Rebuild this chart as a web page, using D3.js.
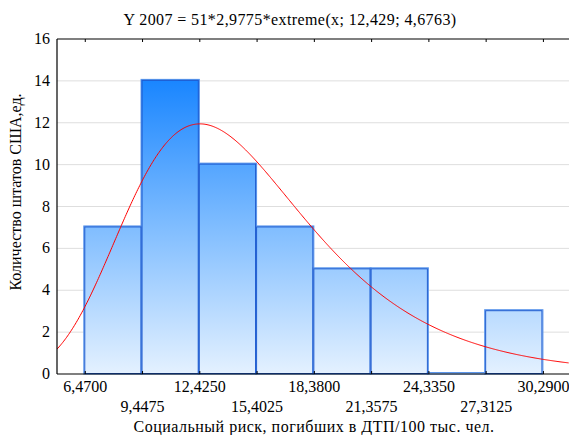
<!DOCTYPE html>
<html>
<head>
<meta charset="utf-8">
<script src="https://cdn.jsdelivr.net/npm/d3@7"></script>
<style>
  html, body { margin: 0; padding: 0; background: #fff; }
  svg { display: block; }
  svg text { font-family: "Liberation Serif", "DejaVu Serif", serif; }
</style>
</head>
<body>
<svg id="chart" width="569" height="435"></svg>
<script>
// Histogram bins: lower/upper bounds and state counts
const binEdges = [6.47, 9.4475, 12.425, 15.4025, 18.38, 21.3575, 24.335, 27.3125, 30.29];
const counts = [7, 14, 10, 7, 5, 5, 0, 3];
const xTickLabels = ["6,4700", "9,4475", "12,4250", "15,4025", "18,3800", "21,3575", "24,3350", "27,3125", "30,2900"];
const yTicks = [0, 2, 4, 6, 8, 10, 12, 14, 16];
// Fitted extreme-value curve: N * binWidth * extreme(x; location; scale)
const fitParams = [51, 2.9775, 12.429, 4.6763];
const titleText = "Y 2007 = 51*2,9775*extreme(x; 12,429; 4,6763)";
const xTitle = "Социальный риск, погибших в ДТП/100 тыс. чел.";
const yTitle = "Количество штатов США,ед.";

const svg = d3.select("#chart");
const plotL = 57, plotT = 39, plotB = 374, plotR = 569;
const serif = "'Liberation Serif', 'DejaVu Serif', serif";

const x = d3.scaleLinear().domain([5.0, 31.62]).range([plotL, plotR]);
const y = d3.scaleLinear().domain([0, 16]).range([plotB, plotT]);

// Vertical gradient shared by all bars (dark at top, pale near the baseline)
const defs = svg.append("defs");
const grad = defs.append("linearGradient")
  .attr("id", "barGrad")
  .attr("gradientUnits", "userSpaceOnUse")
  .attr("x1", 0).attr("x2", 0)
  .attr("y1", y(14)).attr("y2", y(0));
grad.append("stop").attr("offset", 0).attr("stop-color", "#1a86ff");
grad.append("stop").attr("offset", 0.5).attr("stop-color", "#80bdff");
grad.append("stop").attr("offset", 1).attr("stop-color", "#e4f1ff");

// Horizontal grid
svg.append("g")
  .selectAll("line")
  .data(yTicks.filter(d => d > 0 && d < 16))
  .join("line")
  .attr("x1", plotL).attr("x2", plotR)
  .attr("y1", d => y(d)).attr("y2", d => y(d))
  .attr("stroke", "#dedede").attr("stroke-width", 1);

// Bars
const bins = counts.map((c, i) => ({ x0: binEdges[i], x1: binEdges[i + 1], c }));
const barG = svg.append("g");
barG.selectAll("rect.outer")
  .data(bins)
  .join("rect")
  .attr("class", "outer")
  .attr("x", d => x(d.x0) - 1.5)
  .attr("y", d => y(d.c) - 1.5)
  .attr("width", d => x(d.x1) - x(d.x0) + 1)
  .attr("height", d => y(0) - y(d.c) + 1.5)
  .attr("fill", "url(#barGrad)")
  .attr("stroke", "#5b95ea")
  .attr("stroke-width", 1);
barG.selectAll("rect.inner")
  .data(bins)
  .join("rect")
  .attr("class", "inner")
  .attr("x", d => x(d.x0) - 0.5)
  .attr("y", d => y(d.c) - 0.5)
  .attr("width", d => x(d.x1) - x(d.x0) - 1)
  .attr("height", d => y(0) - y(d.c))
  .attr("fill", "none")
  .attr("stroke", "#1f5cd0")
  .attr("stroke-width", 1);

// Fitted curve (Gumbel maximum extreme value density, scaled to counts)
const [nObs, binW, loc, scl] = fitParams;
const extreme = v => {
  const z = (v - loc) / scl;
  return Math.exp(-z - Math.exp(-z)) / scl;
};
const curveXs = d3.range(x.domain()[0], x.domain()[1] + 0.001, 0.05);
svg.append("clipPath").attr("id", "plotClip")
  .append("rect").attr("x", plotL).attr("y", plotT).attr("width", plotR - plotL).attr("height", plotB - plotT);
svg.append("path")
  .datum(curveXs)
  .attr("clip-path", "url(#plotClip)")
  .attr("fill", "none")
  .attr("stroke", "#ff0000")
  .attr("stroke-width", 1)
  .attr("d", d3.line().x(v => x(v)).y(v => y(nObs * binW * extreme(v))));

// Frame: left, bottom, top lines
const frame = svg.append("g").attr("stroke", "#000").attr("stroke-width", 1.2);
frame.append("line").attr("x1", plotL).attr("x2", plotL).attr("y1", plotT).attr("y2", plotB);
frame.append("line").attr("x1", plotL).attr("x2", plotR).attr("y1", plotB).attr("y2", plotB);
frame.append("line").attr("x1", plotL).attr("x2", plotR).attr("y1", plotT).attr("y2", plotT);

// Tick marks at bin edges on bottom (pointing up) and top (pointing down)
const tickG = svg.append("g").attr("stroke", "#000").attr("stroke-width", 1);
tickG.selectAll("line.b").data(binEdges).join("line").attr("class", "b")
  .attr("x1", d => x(d)).attr("x2", d => x(d))
  .attr("y1", plotB).attr("y2", plotB - 3);
tickG.selectAll("line.t").data(binEdges).join("line").attr("class", "t")
  .attr("x1", d => x(d)).attr("x2", d => x(d))
  .attr("y1", plotT).attr("y2", plotT + 3);

// X tick labels in two staggered rows
svg.append("g")
  .selectAll("text")
  .data(binEdges)
  .join("text")
  .attr("x", d => x(d))
  .attr("y", (d, i) => i % 2 === 0 ? 392 : 412)
  .attr("text-anchor", "middle")
  .attr("font-family", serif)
  .attr("font-size", 16)
  .attr("fill", "#000")
  .text((d, i) => xTickLabels[i]);

// Y tick labels
svg.append("g")
  .selectAll("text")
  .data(yTicks)
  .join("text")
  .attr("x", 50)
  .attr("y", d => y(d) + 5)
  .attr("text-anchor", "end")
  .attr("font-family", serif)
  .attr("font-size", 16)
  .attr("fill", "#000")
  .text(d => d);

// Titles
svg.append("text")
  .attr("x", 290).attr("y", 25)
  .attr("text-anchor", "middle")
  .attr("font-family", serif)
  .attr("font-size", 16)
  .attr("letter-spacing", 0.4)
  .text(titleText);
svg.append("text")
  .attr("x", 314).attr("y", 432)
  .attr("text-anchor", "middle")
  .attr("font-family", serif)
  .attr("font-size", 16)
  .attr("letter-spacing", 0.5)
  .text(xTitle);
svg.append("text")
  .attr("transform", "translate(21,192) rotate(-90)")
  .attr("text-anchor", "middle")
  .attr("font-family", serif)
  .attr("font-size", 16)
  .text(yTitle);
</script>
</body>
</html>
